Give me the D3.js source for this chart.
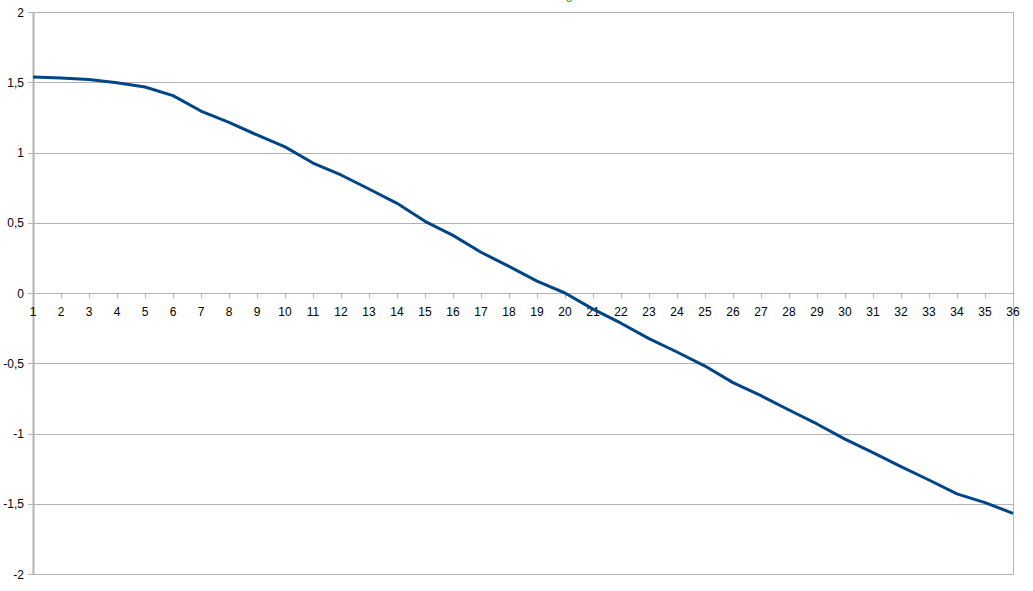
<!DOCTYPE html>
<html>
<head>
<meta charset="utf-8">
<script src="https://cdn.jsdelivr.net/npm/d3@7"></script>
<style>
  html, body { margin: 0; padding: 0; background: #fff; }
  svg { display: block; }
  text { font-family: "Liberation Sans", Arial, sans-serif; }
</style>
</head>
<body>
<svg id="chart" width="1033" height="591"></svg>
<script>
const categories = [1,2,3,4,5,6,7,8,9,10,11,12,13,14,15,16,17,18,19,20,21,22,23,24,25,26,27,28,29,30,31,32,33,34,35,36];
const values = [1.537, 1.53, 1.52, 1.497, 1.466, 1.405, 1.295, 1.215, 1.125, 1.04, 0.925, 0.84, 0.74, 0.638, 0.51, 0.41, 0.29, 0.19, 0.085, 0.0,
                -0.115, -0.215, -0.325, -0.42, -0.52, -0.638, -0.731, -0.833, -0.932, -1.04, -1.136, -1.236, -1.331, -1.43, -1.492, -1.568];
const yTicks = [-2, -1.5, -1, -0.5, 0, 0.5, 1, 1.5, 2];
const titleText = "g";

(function () {
const svg = d3.select("#chart");
const mLeft = 33, mRight = 1013, mTop = 12, mBottom = 574;

const x = d3.scaleLinear().domain([1, 36]).range([mLeft, mRight]);
const y = d3.scaleLinear().domain([-2, 2]).range([mBottom, mTop]);
const grid = "#b3b3b3";
const fmt = v => String(v).replace(".", ",");

// horizontal gridlines + left ticks
svg.append("g").selectAll("line").data(yTicks).join("line")
  .attr("x1", mLeft - 5).attr("x2", mRight)
  .attr("y1", d => Math.round(y(d)) + 0.5).attr("y2", d => Math.round(y(d)) + 0.5)
  .attr("stroke", grid).attr("stroke-width", 1);

// plot frame verticals
svg.append("line").attr("x1", mLeft + 0.5).attr("x2", mLeft + 0.5).attr("y1", mTop).attr("y2", mBottom + 0.5)
  .attr("stroke", grid).attr("stroke-width", 2);
svg.append("line").attr("x1", mRight + 0.5).attr("x2", mRight + 0.5).attr("y1", mTop).attr("y2", mBottom + 0.5)
  .attr("stroke", grid).attr("stroke-width", 1);

// y labels
svg.append("g").selectAll("text").data(yTicks).join("text")
  .attr("x", 24).attr("y", d => y(d) + 4.5)
  .attr("text-anchor", "end").attr("font-size", 12).attr("fill", "#000")
  .text(d => fmt(d));

// x axis at zero with ticks
const zeroY = Math.round(y(0)) + 0.5;
svg.append("g").selectAll("line").data(categories).join("line")
  .attr("x1", d => Math.round(x(d)) + 0.5).attr("x2", d => Math.round(x(d)) + 0.5)
  .attr("y1", zeroY).attr("y2", zeroY + 5)
  .attr("stroke", grid).attr("stroke-width", 1);

svg.append("g").selectAll("text").data(categories).join("text")
  .attr("x", d => x(d)).attr("y", zeroY + 22)
  .attr("text-anchor", "middle").attr("font-size", 12).attr("fill", "#000")
  .text(d => d);

// series line
const line = d3.line().x((d, i) => x(categories[i])).y(d => y(d));
svg.append("path").datum(values)
  .attr("d", line)
  .attr("fill", "none").attr("stroke", "#004586").attr("stroke-width", 3)
  .attr("stroke-linejoin", "round");

// title (mostly out of view)
svg.append("text").attr("x", 569).attr("y", -1)
  .attr("text-anchor", "middle").attr("font-size", 13).attr("fill", "#00a933")
  .text(titleText);
})();
</script>
</body>
</html>
